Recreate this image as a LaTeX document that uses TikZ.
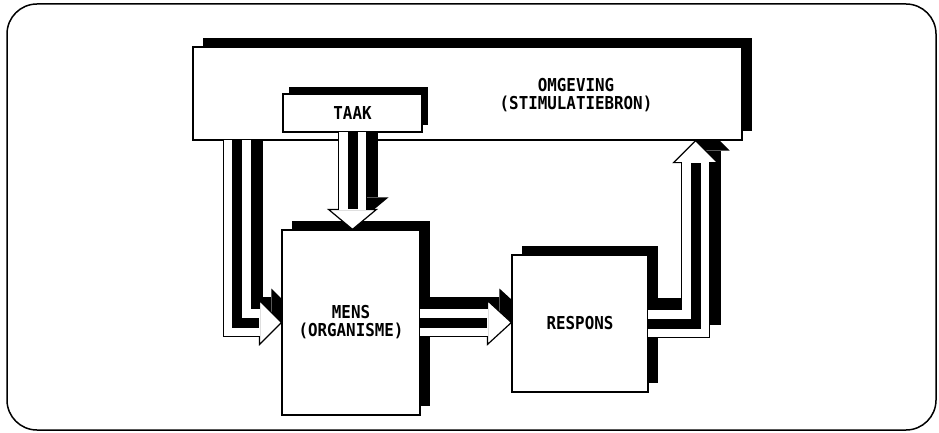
\documentclass[tikz,border=0pt]{standalone}
\usepackage{fontspec}
\newfontfamily\boxfont[FakeStretch=0.89]{DejaVu Sans Mono}
\usetikzlibrary{calc,shadows}

\pgfdeclarelayer{back}
\pgfdeclarelayer{upper}
\pgfsetlayers{back,main,upper}

\tikzset{
  block/.style={draw, fill=white, line width=1.2pt, inner sep=0pt, align=center,
    font=\boxfont\bfseries\fontsize{17.8}{18}\selectfont},
  lbl/.style={inner sep=0pt, align=center,
    font=\boxfont\bfseries\fontsize{17.8}{18}\selectfont},
  bigshadow/.style={drop shadow={shadow xshift=10pt, shadow yshift=9pt, fill=black, opacity=1}},
  smallshadow/.style={drop shadow={shadow xshift=6pt, shadow yshift=7pt, fill=black, opacity=1}},
  shaftshadow/.style={draw=black, line width=27pt},
  shaftrim/.style={draw=black, line width=29.4pt},
  shaftbody/.style={draw=white, line width=27pt},
  stripe/.style={draw=black, line width=10pt},
  headwhite/.style={fill=white, draw=black, line width=1.2pt},
  shift12/.style={transform canvas={xshift=12pt, yshift=12pt}}
}

\begin{document}
\begin{tikzpicture}[x=1pt, y=-1pt]
    \useasboundingbox (0,0) rectangle (939,433);

    %----------------------------------------
    % FRAME
    %----------------------------------------
    \draw[line width=1.5pt, rounded corners=30pt] (7,4) rectangle (936,430);

    %----------------------------------------
    % BOXES
    %----------------------------------------
    \node[block, bigshadow, minimum width=549pt, minimum height=93pt] (omg) at (467.5,93.5) {};
    \node[lbl] (omglbl) at (576,95) {OMGEVING\\(STIMULATIEBRON)};
    \node[block, bigshadow, minimum width=138pt, minimum height=185pt] (mens) at (351,322.5) {MENS\\(ORGANISME)};
    \node[block, bigshadow, minimum width=136pt, minimum height=137pt] (resp) at (580,323.5) {RESPONS};
    \begin{pgfonlayer}{upper}
      \node[block, smallshadow, minimum width=139pt, minimum height=38pt] (taak) at (352.5,113) {TAAK};
    \end{pgfonlayer}

    %----------------------------------------
    % Arrow points
    %----------------------------------------
    % omgeving -> mens
    \coordinate (a0) at ($(omg.south west)+(45,-0.7)$);
    \coordinate (a1) at (a0 |- mens.west);
    \coordinate (a3) at (mens.west);
    \coordinate (a2) at ($(a3)+(-22,0)$);
    % taak -> mens
    \coordinate (b0) at ($(taak.south)+(0,-0.7)$);
    \coordinate (b3) at (taak.south |- mens.north);
    \coordinate (b2) at ($(b3)+(0,-20)$);
    % mens -> respons
    \coordinate (c0) at ($(mens.east)+(-0.7,0)$);
    \coordinate (c3) at (mens.east -| resp.west);
    \coordinate (c2) at ($(c3)+(-24,0)$);
    % respons -> omgeving
    \coordinate (d0) at ($(resp.east)+(-0.7,0)$);
    \coordinate (d1) at ($(resp.east)+(47,0)$);
    \coordinate (d3) at (d1 |- omg.south);
    \coordinate (d2) at ($(d3)+(0,22)$);

    %----------------------------------------
    % Arrow shadows (12pt up and right)
    %----------------------------------------
    \begin{pgfonlayer}{back}
      \begin{scope}[shift12]
        \draw[shaftshadow] (a0) -- (a1) -- (a2);
        \fill ($(a2)+(0,-22)$) -- (a3) -- ($(a2)+(0,22)$) -- cycle;
        \draw[shaftshadow] ($(c0)+(-12,0)$) -- (c2);
        \fill ($(c2)+(0,-22)$) -- (c3) -- ($(c2)+(0,22)$) -- cycle;
        \draw[shaftshadow] ($(d0)+(-12,0)$) -- (d1) -- (d2);
        \fill ($(d2)+(-22,0)$) -- (d3) -- ($(d2)+(22,0)$) -- cycle;
      \end{scope}
    \end{pgfonlayer}
    \begin{scope}[shift12]
      \draw[shaftshadow] ($(b0)+(0,-12)$) -- (b2);
      \fill ($(b2)+(-24,0)$) -- (b3) -- ($(b2)+(24,0)$) -- cycle;
    \end{scope}

    %----------------------------------------
    % White arrows with inner stripe
    %----------------------------------------
    \draw[shaftrim] (a0) -- (a1) -- (a2);
    \filldraw[headwhite] ($(a2)+(0,-22)$) -- (a3) -- ($(a2)+(0,22)$) -- cycle;
    \draw[shaftbody] (a0) -- (a1) -- ($(a2)+(1,0)$);
    \draw[stripe] (a0) -- (a1) -- (a2);

    \draw[shaftrim] (c0) -- (c2);
    \filldraw[headwhite] ($(c2)+(0,-22)$) -- (c3) -- ($(c2)+(0,22)$) -- cycle;
    \draw[shaftbody] (c0) -- ($(c2)+(1,0)$);
    \draw[stripe] (c0) -- (c2);

    \draw[shaftrim] (d0) -- (d1) -- (d2);
    \filldraw[headwhite] ($(d2)+(-22,0)$) -- (d3) -- ($(d2)+(22,0)$) -- cycle;
    \draw[shaftbody] (d0) -- (d1) -- ($(d2)+(0,-1)$);
    \draw[stripe] (d0) -- (d1) -- (d2);

    \begin{pgfonlayer}{upper}
      \draw[shaftrim] (b0) -- (b2);
      \filldraw[headwhite] ($(b2)+(-24,0)$) -- (b3) -- ($(b2)+(24,0)$) -- cycle;
      \draw[shaftbody] (b0) -- ($(b2)+(0,1)$);
      \draw[stripe] (b0) -- (b2);
    \end{pgfonlayer}

\end{tikzpicture}
\end{document}
